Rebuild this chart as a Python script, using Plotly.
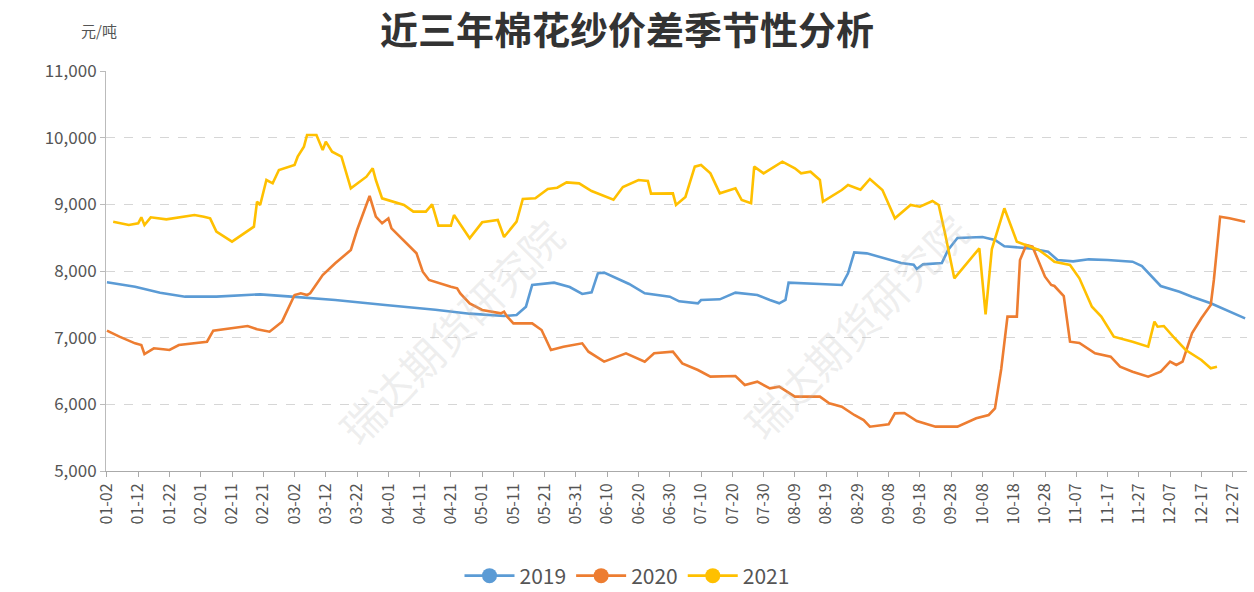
import pandas as pd
import plotly.graph_objects as go

# ---- categories (every calendar day, MM-DD; leap-year calendar as in the source) ----
cats = [d.strftime("%m-%d") for d in pd.date_range("2020-01-02", "2020-12-31")]
tick_labels = cats[::10]

# ---- 2019 ----
d2019 = ["01-02","01-11","01-19","01-27","02-06","02-20","03-01","03-15","03-31","04-16",
         "04-27","05-08","05-12","05-15","05-17","05-24","05-29","06-02","06-05","06-07",
         "06-09","06-14","06-17","06-22","06-30","07-03","07-09","07-10","07-16","07-21",
         "07-28","08-01","08-04","08-06","08-07","08-17","08-24","08-26","08-28","09-01",
         "09-07","09-12","09-16","09-17","09-19","09-25","09-27","09-30","10-08","10-12",
         "10-15","10-23","10-29","11-01","11-06","11-11","11-17","11-25","11-28","12-04",
         "12-10","12-14","12-20","12-25","12-31"]
v2019 = [7830,7765,7675,7615,7615,7650,7615,7565,7490,7420,
         7360,7325,7340,7465,7790,7825,7760,7655,7680,7965,
         7975,7865,7805,7665,7615,7545,7515,7565,7575,7675,
         7640,7565,7515,7565,7825,7805,7790,7965,8280,8265,
         8190,8120,8095,8030,8100,8120,8315,8495,8510,8465,
         8370,8340,8290,8165,8145,8175,8165,8140,8075,7775,
         7690,7615,7515,7415,7290]

# ---- 2020 ----
d2020 = ["01-02","01-06","01-11","01-13","01-14","01-17","01-20","01-22","01-25","02-03",
         "02-05","02-11","02-16","02-19","02-23","02-25","02-27","03-02","03-04","03-06",
         "03-07","03-11","03-15","03-20","03-22","03-26","03-28","03-30","04-01","04-02",
         "04-10","04-12","04-14","04-21","04-23","04-24","04-27","05-01","05-07","05-08",
         "05-09","05-11","05-17","05-20","05-23","05-27","06-02","06-04","06-09","06-16",
         "06-22","06-25","07-01","07-04","07-09","07-13","07-21","07-24","07-28","08-01",
         "08-04","08-09","08-17","08-20","08-24","08-28","08-31","09-02","09-08","09-10",
         "09-13","09-17","09-23","09-30","10-06","10-10","10-12","10-14","10-16","10-19",
         "10-20","10-22","10-24","10-28","10-30","10-31","11-03","11-05","11-08","11-13",
         "11-18","11-21","11-25","11-30","12-04","12-07","12-09","12-11","12-14","12-17",
         "12-20","12-21","12-23","12-26","12-31"]
v2020 = [7105,7015,6915,6890,6755,6840,6825,6815,6890,6940,
         7105,7140,7175,7125,7090,7165,7240,7640,7665,7640,
         7665,7940,8115,8315,8615,9125,8815,8715,8790,8640,
         8265,7990,7865,7765,7740,7665,7515,7415,7365,7390,
         7315,7215,7215,7115,6815,6865,6915,6790,6640,6765,
         6640,6765,6790,6615,6515,6415,6425,6290,6340,6240,
         6265,6115,6115,6015,5965,5840,5765,5665,5700,5865,
         5870,5750,5665,5665,5790,5840,5940,6530,7315,7315,
         8165,8390,8365,7915,7790,7775,7625,6940,6920,6765,
         6715,6565,6490,6415,6490,6640,6590,6640,7065,7290,
         7490,7865,8815,8790,8740]

# ---- 2021 ----
d2021 = ["01-04","01-09","01-12","01-13","01-14","01-16","01-21","01-26","01-30","02-02",
         "02-04","02-06","02-11","02-18","02-19","02-20","02-22","02-24","02-26","03-02",
         "03-03","03-05","03-06","03-09","03-11","03-12","03-14","03-17","03-20","03-25",
         "03-27","03-28","03-30","04-06","04-09","04-13","04-15","04-17","04-21","04-22",
         "04-27","05-01","05-06","05-08","05-12","05-14","05-18","05-22","05-25","05-28",
         "06-01","06-05","06-10","06-12","06-15","06-20","06-23","06-24","07-01","07-02",
         "07-05","07-08","07-10","07-13","07-16","07-21","07-23","07-26","07-27","07-30",
         "08-05","08-09","08-11","08-14","08-17","08-18","08-24","08-26","08-30","09-02",
         "09-06","09-10","09-15","09-18","09-22","09-24","09-26","09-29","10-07","10-09",
         "10-11","10-15","10-19","10-23","10-26","10-29","10-31","11-05","11-08","11-12",
         "11-15","11-19","11-25","11-30","12-02","12-03","12-05","12-08","12-12","12-17",
         "12-20","12-22"]
v2021 = [8740,8690,8715,8805,8690,8805,8775,8805,8840,8815,
         8790,8590,8440,8665,9040,8990,9365,9315,9515,9590,
         9715,9865,10040,10040,9815,9940,9790,9715,9240,9415,
         9540,9365,9090,8990,8890,8890,9000,8680,8680,8840,
         8490,8730,8765,8510,8740,9080,9090,9230,9250,9330,
         9315,9200,9100,9070,9260,9365,9350,9160,9165,8990,
         9110,9565,9590,9465,9165,9240,9065,9015,9565,9465,
         9640,9540,9465,9490,9365,9040,9215,9290,9220,9380,
         9215,8790,8990,8965,9050,8990,8570,7890,8340,7350,
         8330,8940,8440,8365,8315,8215,8140,8090,7890,7465,
         7315,7015,6940,6865,7240,7165,7175,7015,6815,6665,
         6540,6565]

series = [
    ("2019", d2019, v2019, "#5B9BD5"),
    ("2020", d2020, v2020, "#ED7D31"),
    ("2021", d2021, v2021, "#FFC000"),
]

fig = go.Figure()
# register every category in order
fig.add_trace(go.Scatter(x=cats, y=[None] * len(cats), mode="lines",
                         showlegend=False, hoverinfo="skip"))
for name, xs, ys, col in series:
    assert len(xs) == len(ys)
    fig.add_trace(go.Scatter(x=xs, y=ys, mode="lines", name=name,
                             line=dict(color=col, width=2.6), showlegend=False))
for name, xs, ys, col in series:
    fig.add_trace(go.Scatter(x=[None], y=[None], mode="lines+markers", name=name,
                             line=dict(color=col, width=2.6),
                             marker=dict(color=col, size=15)))

font_main = "Noto Sans CJK SC, Noto Sans, sans-serif"

fig.update_layout(
    width=1254, height=592,
    margin=dict(l=106, r=7, t=71, b=121),
    paper_bgcolor="white", plot_bgcolor="white",
    font=dict(family=font_main, color="#666"),
    title=dict(text="<b>近三年棉花纱价差季节性分析</b>", x=0.5, xanchor="center",
               y=1 - 31 / 592, yanchor="middle", yref="container",
               font=dict(size=38, color="#333", family=font_main)),
    legend=dict(orientation="h", x=0.5, xanchor="center", xref="container",
                y=1 - 576 / 592, yanchor="middle", yref="container",
                font=dict(size=21, color="#555"), itemwidth=50),
    xaxis=dict(type="category", categoryorder="array", categoryarray=cats,
               range=[-0.3, 364.6], tickmode="array", tickvals=tick_labels,
               ticktext=tick_labels, tickangle=-90, tickfont=dict(size=16, color="#555"),
               showgrid=False, showline=True, linecolor="#aaa", linewidth=1,
               ticks="outside", ticklen=5, tickcolor="#aaa", zeroline=False),
    yaxis=dict(range=[5000, 11000], tickmode="array",
               tickvals=[5000, 6000, 7000, 8000, 9000, 10000, 11000],
               ticktext=["5,000", "6,000", "7,000", "8,000", "9,000", "10,000", "11,000"],
               tickfont=dict(size=17, color="#555"), showgrid=True, gridcolor="#d6d6d6",
               griddash="dash", gridwidth=1, showline=True, linecolor="#bbb",
               ticks="outside", ticklen=5, tickcolor="#bbb", zeroline=False),
    annotations=[
        dict(text="元/吨", xref="paper", yref="paper", x=-0.006, y=1.1,
             xanchor="center", yanchor="middle", showarrow=False,
             font=dict(size=15, color="#555", family=font_main)),
        dict(text="瑞达期货研究院", xref="paper", yref="paper",
             x=(322 - 106) / 1141, y=(471 - 202) / 400, textangle=-45,
             showarrow=False, font=dict(size=42, color="rgba(180,180,180,0.22)",
                                        family=font_main)),
        dict(text="瑞达期货研究院", xref="paper", yref="paper",
             x=(855 - 106) / 1141, y=(471 - 325) / 400, textangle=-45,
             showarrow=False, font=dict(size=42, color="rgba(180,180,180,0.22)",
                                        family=font_main)),
    ],
)

fig.write_html("out.html", config={"displayModeBar": False},
               post_script="document.body.style.margin='0';")
